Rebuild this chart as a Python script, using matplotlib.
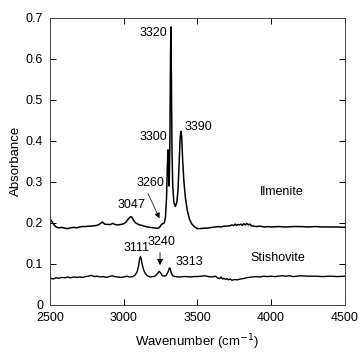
import matplotlib
matplotlib.use('Agg')
import matplotlib.pyplot as plt
import numpy as np

plt.rcParams['font.family'] = ['Liberation Sans', 'DejaVu Sans']

# values
ilm_wn = [2500, 2510, 2525, 2540, 2560, 2580, 2600, 2620, 2640, 2660, 2680, 2700, 2720, 2740,
          2760, 2780, 2800, 2820, 2840, 2855, 2870, 2890, 2910, 2925, 2940, 2960, 2980, 3000,
          3015, 3030, 3045, 3055, 3065, 3080, 3100, 3120, 3140, 3160, 3180, 3200, 3220, 3235,
          3245, 3255, 3265, 3275, 3283, 3290, 3296, 3300, 3304, 3308, 3313, 3317, 3320, 3323,
          3327, 3332, 3340, 3350, 3360, 3368, 3376, 3383, 3388, 3393, 3400, 3408, 3418, 3430,
          3445, 3460, 3480, 3500, 3520, 3540, 3560, 3580, 3600, 3620, 3640, 3660, 3680, 3700,
          3720, 3735, 3745, 3755, 3765, 3775, 3785, 3795, 3805, 3815, 3825, 3835, 3845, 3855,
          3865, 3880, 3900, 3920, 3940, 3960, 3980, 4000, 4050, 4100, 4150, 4200, 4250, 4300,
          4350, 4400, 4450, 4500]
ilm_abs = [0.210, 0.205, 0.196, 0.190, 0.188, 0.189, 0.187, 0.186, 0.188, 0.189, 0.188, 0.190,
           0.191, 0.191, 0.192, 0.192, 0.193, 0.194, 0.198, 0.202, 0.197, 0.196, 0.196, 0.199,
           0.196, 0.195, 0.196, 0.198, 0.202, 0.209, 0.215, 0.214, 0.207, 0.200, 0.196, 0.194,
           0.192, 0.190, 0.189, 0.188, 0.187, 0.187, 0.190, 0.196, 0.198, 0.200, 0.215, 0.260,
           0.340, 0.378, 0.320, 0.290, 0.400, 0.600, 0.678, 0.560, 0.380, 0.290, 0.250, 0.240,
           0.250, 0.280, 0.350, 0.410, 0.423, 0.410, 0.350, 0.300, 0.262, 0.232, 0.210, 0.198,
           0.190, 0.186, 0.186, 0.187, 0.187, 0.188, 0.189, 0.190, 0.191, 0.190, 0.192, 0.192,
           0.193, 0.195, 0.193, 0.197, 0.194, 0.196, 0.195, 0.197, 0.194, 0.198, 0.195, 0.199,
           0.195, 0.197, 0.193, 0.192, 0.191, 0.192, 0.191, 0.190, 0.191, 0.190, 0.191, 0.190,
           0.191, 0.191, 0.190, 0.191, 0.190, 0.190, 0.190, 0.189]

sti_wn = [2500, 2520, 2540, 2560, 2580, 2600, 2620, 2640, 2660, 2680, 2700, 2720, 2740, 2760,
          2780, 2800, 2820, 2840, 2860, 2880, 2900, 2920, 2940, 2960, 2980, 3000, 3020, 3040,
          3060, 3075, 3090, 3100, 3108, 3113, 3118, 3126, 3135, 3145, 3160, 3180, 3200, 3215,
          3228, 3240, 3250, 3262, 3275, 3288, 3300, 3310, 3315, 3322, 3332, 3350, 3375, 3400,
          3425, 3450, 3475, 3500, 3525, 3550, 3575, 3600, 3620, 3635, 3650, 3660, 3670, 3680,
          3690, 3700, 3710, 3720, 3735, 3750, 3770, 3790, 3810, 3830, 3850, 3870, 3900, 3925,
          3950, 3975, 4000, 4025, 4050, 4075, 4100, 4125, 4150, 4175, 4200, 4250, 4300, 4350,
          4400, 4450, 4500]
sti_abs = [0.066, 0.063, 0.066, 0.065, 0.067, 0.066, 0.068, 0.066, 0.068, 0.067, 0.068, 0.067,
           0.069, 0.070, 0.072, 0.069, 0.070, 0.068, 0.069, 0.067, 0.069, 0.071, 0.069, 0.068,
           0.067, 0.068, 0.070, 0.068, 0.069, 0.072, 0.080, 0.095, 0.113, 0.118, 0.113, 0.097,
           0.085, 0.077, 0.071, 0.068, 0.069, 0.071, 0.076, 0.082, 0.078, 0.071, 0.070, 0.072,
           0.080, 0.090, 0.089, 0.078, 0.071, 0.069, 0.068, 0.069, 0.069, 0.068, 0.069, 0.069,
           0.070, 0.071, 0.069, 0.068, 0.070, 0.066, 0.064, 0.068, 0.063, 0.065, 0.062, 0.064,
           0.061, 0.063, 0.060, 0.062, 0.061, 0.063, 0.064, 0.066, 0.067, 0.068, 0.069, 0.068,
           0.070, 0.069, 0.070, 0.069, 0.070, 0.071, 0.070, 0.071, 0.069, 0.070, 0.071, 0.070,
           0.070, 0.069, 0.070, 0.069, 0.070]

# peak labels: text, x, y
peak_labels = [('3320', 3198, 0.663), ('3300', 3198, 0.41), ('3390', 3505, 0.434),
               ('3260', 3178, 0.297), ('3047', 3054, 0.244), ('3111', 3088, 0.139),
               ('3240', 3257, 0.154), ('3313', 3447, 0.105)]

fig = plt.figure(figsize=(3.63, 3.57), dpi=100)
ax = fig.add_axes([0.138, 0.146, 0.812, 0.804])

ax.plot(ilm_wn, ilm_abs, color='black', lw=1.1)
ax.plot(sti_wn, sti_abs, color='black', lw=1.0)

for txt, x, y in peak_labels:
    ax.text(x, y, txt, ha='center', va='center', fontsize=9)

ax.text(4071, 0.275, 'Ilmenite', ha='center', va='center', fontsize=9)
ax.text(4048, 0.114, 'Stishovite', ha='center', va='center', fontsize=9)

ax.annotate('', xy=(3250, 0.205), xytext=(3156, 0.278),
            arrowprops=dict(arrowstyle='-|>', color='black', lw=0.5, mutation_scale=8))
ax.annotate('', xy=(3246, 0.090), xytext=(3246, 0.134),
            arrowprops=dict(arrowstyle='-|>', color='black', lw=0.6, mutation_scale=9))

ax.set_xlim(2500, 4500)
ax.set_ylim(0, 0.7)
ax.set_xticks(np.arange(2500, 4501, 500))
ax.set_yticks(np.arange(0, 0.71, 0.1))
ax.set_yticklabels(['0', '0.1', '0.2', '0.3', '0.4', '0.5', '0.6', '0.7'])
ax.tick_params(direction='in', top=True, right=True, length=4, width=0.7,
               labelsize=9, pad=5)
for s in ax.spines.values():
    s.set_linewidth(0.7)
    s.set_color('#444444')

ax.set_xlabel('Wavenumber (cm$^{-1}$)', fontsize=9.5, labelpad=6)
ax.set_ylabel('Absorbance', fontsize=9.5, labelpad=3)

fig.savefig('out.png', dpi=100)
